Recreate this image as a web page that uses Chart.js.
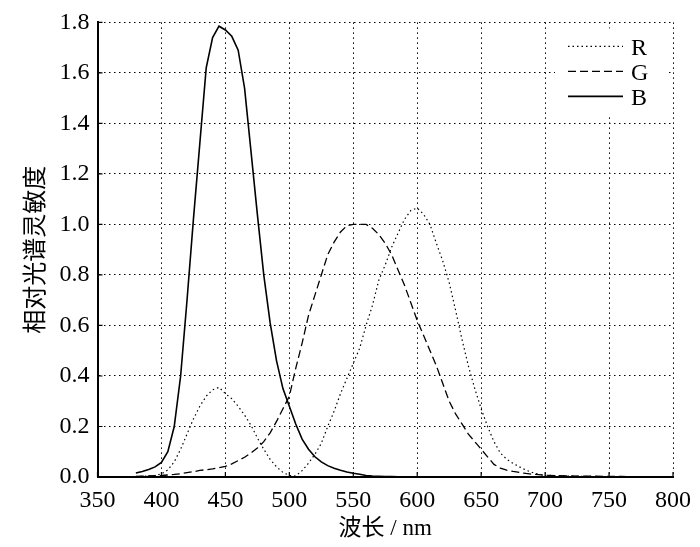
<!DOCTYPE html>
<html>
<head>
<meta charset="utf-8">
<script src="https://cdn.jsdelivr.net/npm/chart.js@4"></script>
<style>
  html, body { margin: 0; padding: 0; background: #fff; }
  #wrap { width: 700px; height: 547px; }
</style>
</head>
<body>
<div id="wrap"><canvas id="chart" width="700" height="547"></canvas></div>
<script>
// wavelength (nm)
const wavelengths = [
  380, 385, 390, 395, 400, 405, 410, 415, 420, 425, 430, 435, 440, 445, 450,
  455, 460, 465, 470, 475, 480, 485, 490, 495, 500, 505, 510, 515, 520, 525,
  530, 535, 540, 545, 550, 555, 560, 565, 570, 575, 580, 585, 590, 595, 600,
  605, 610, 615, 620, 625, 630, 635, 640, 645, 650, 655, 660, 665, 670, 675,
  680, 685, 690, 695, 700, 720, 740, 760, 780
];

const rValues = [
  0.002, 0.003, 0.004, 0.006, 0.012, 0.028, 0.06, 0.11, 0.17, 0.23, 0.28, 0.32, 0.345, 0.355, 0.33,
  0.31, 0.28, 0.245, 0.205, 0.155, 0.11, 0.07, 0.04, 0.018, 0.006, 0.004, 0.025, 0.055, 0.09, 0.133,
  0.2, 0.26, 0.33, 0.39, 0.45, 0.51, 0.6, 0.68, 0.78, 0.84, 0.91, 0.965, 1.02, 1.055, 1.065,
  1.04, 1.0, 0.925, 0.855, 0.77, 0.66, 0.545, 0.44, 0.35, 0.27, 0.2, 0.14, 0.095, 0.07, 0.054,
  0.04, 0.027, 0.018, 0.011, 0.007, 0.003, 0.002, 0.001, 0.001
];

const gValues = [
  0.002, 0.003, 0.004, 0.005, 0.006, 0.008, 0.01, 0.013, 0.017, 0.021, 0.026, 0.029, 0.032, 0.037, 0.042,
  0.052, 0.065, 0.078, 0.095, 0.115, 0.14, 0.175, 0.22, 0.27, 0.32, 0.43, 0.53, 0.64, 0.72, 0.8,
  0.88, 0.93, 0.97, 0.995, 1.0, 1.0, 1.0, 0.985, 0.96, 0.925, 0.88, 0.82, 0.76, 0.69, 0.62,
  0.56, 0.5, 0.44, 0.37, 0.3, 0.25, 0.21, 0.17, 0.14, 0.11, 0.08, 0.05, 0.035, 0.027, 0.022,
  0.018, 0.014, 0.011, 0.009, 0.007, 0.004, 0.003, 0.002, 0.001
];

const bValues = [
  0.016, 0.022, 0.03, 0.04, 0.058, 0.1, 0.2, 0.4, 0.7, 1.02, 1.32, 1.62, 1.74, 1.785, 1.77,
  1.745, 1.69, 1.54, 1.29, 1.04, 0.8, 0.61, 0.46, 0.35, 0.28, 0.21, 0.15, 0.11, 0.08, 0.06,
  0.045, 0.035, 0.027, 0.02, 0.015, 0.011, 0.006, 0.004, 0.003, 0.002, 0.002, 0.001, 0.001, 0.001, 0.001,
  0, 0, 0, 0, 0, 0, 0, 0, 0, 0, 0, 0, 0, 0, 0,
  0, 0, 0, 0, 0, 0, 0, 0, 0
];

const xTicks = [350, 400, 450, 500, 550, 600, 650, 700, 750, 800];
const yTicks = [0, 0.2, 0.4, 0.6, 0.8, 1.0, 1.2, 1.4, 1.6, 1.8];

const seriesNames = ["R", "G", "B"];

const FONT = '"Liberation Serif", "Noto Sans CJK SC", serif';

function pts(vals) {
  return wavelengths.map((w, i) => ({ x: w, y: vals[i] }));
}

// small inward ticks along the two solid axes
const innerTicks = {
  id: "innerTicks",
  afterDraw(c) {
    const ctx = c.ctx, x = c.scales.x, y = c.scales.y, a = c.chartArea;
    ctx.save();
    ctx.strokeStyle = "#000";
    ctx.lineWidth = 1.2;
    ctx.beginPath();
    xTicks.forEach(v => {
      const px = x.getPixelForValue(v);
      ctx.moveTo(px, a.bottom);
      ctx.lineTo(px, a.bottom - 5);
    });
    yTicks.forEach(v => {
      const py = y.getPixelForValue(v);
      ctx.moveTo(a.left, py);
      ctx.lineTo(a.left + 5, py);
    });
    ctx.stroke();
    ctx.restore();
  }
};

// legend box in the upper right corner
const cornerLegend = {
  id: "cornerLegend",
  afterDraw(c) {
    const ctx = c.ctx, a = c.chartArea;
    const x0 = a.right - 118, y0 = a.top + 6;
    ctx.save();
    ctx.fillStyle = "#fff";
    ctx.fillRect(x0, y0, 114, 88);
    c.data.datasets.forEach((ds, i) => {
      const ly = y0 + 18 + i * 25;
      ctx.strokeStyle = "#000";
      ctx.lineWidth = ds.borderWidth;
      ctx.setLineDash(ds.borderDash || []);
      ctx.beginPath();
      ctx.moveTo(x0 + 13, ly);
      ctx.lineTo(x0 + 68, ly);
      ctx.stroke();
      ctx.setLineDash([]);
      ctx.fillStyle = "#000";
      ctx.font = "24px " + FONT;
      ctx.textBaseline = "middle";
      ctx.fillText(ds.label, x0 + 76, ly + 2);
    });
    ctx.restore();
  }
};

new Chart(chart, {
  type: "line",
  data: {
    datasets: [
      { label: seriesNames[0], data: pts(rValues), borderColor: "#000", borderWidth: 1.2, borderDash: [1.5, 3] },
      { label: seriesNames[1], data: pts(gValues), borderColor: "#000", borderWidth: 1.3, borderDash: [8, 4] },
      { label: seriesNames[2], data: pts(bValues), borderColor: "#000", borderWidth: 1.6 }
    ]
  },
  options: {
    responsive: false,
    animation: false,
    devicePixelRatio: 1,
    elements: { point: { radius: 0 }, line: { tension: 0, fill: false } },
    layout: { padding: { top: 22, right: 22, left: 0, bottom: 0 } },
    plugins: { legend: { display: false }, tooltip: { enabled: false } },
    scales: {
      x: {
        type: "linear",
        min: 350,
        max: 800,
        afterBuildTicks: s => { s.ticks = xTicks.map(v => ({ value: v })); },
        afterFit: s => { s.height = 70; },
        grid: { color: "#000", lineWidth: 1, drawTicks: false },
        border: { display: true, color: "#000", width: 2, dash: [1.5, 3.5] },
        ticks: { color: "#000", padding: 9, font: { family: FONT, size: 24 }, maxRotation: 0 },
        title: { display: true, text: "波长 / nm", color: "#000", font: { family: FONT, size: 23 }, padding: { top: 0, bottom: 4 } }
      },
      y: {
        min: 0,
        max: 1.8,
        afterBuildTicks: s => { s.ticks = yTicks.map(v => ({ value: v })); },
        afterFit: s => { s.width = 97.5; },
        grid: { color: "#000", lineWidth: 1, drawTicks: false },
        border: { display: true, color: "#000", width: 2, dash: [1.5, 3.5] },
        ticks: { color: "#000", padding: 8, font: { family: FONT, size: 24 }, callback: v => v.toFixed(1) },
        title: { display: true, text: "相对光谱灵敏度", color: "#000", font: { family: FONT, size: 24 }, padding: { top: 22, bottom: 0 } }
      }
    }
  },
  plugins: [innerTicks, cornerLegend]
});
</script>
</body>
</html>
